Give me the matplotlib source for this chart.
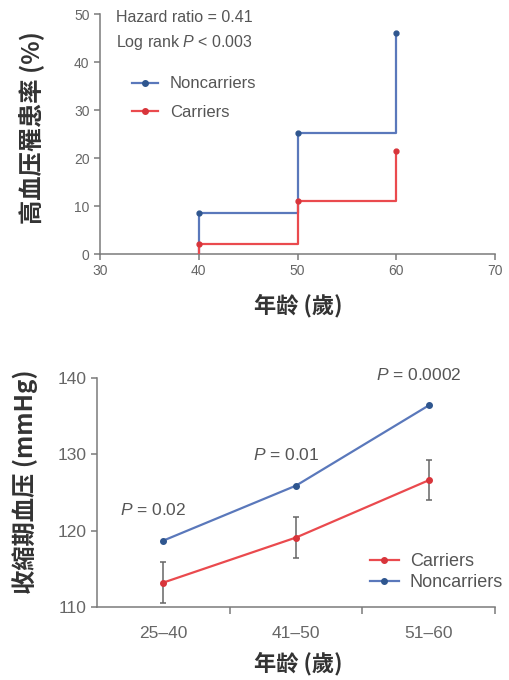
import matplotlib
matplotlib.use("Agg")
import matplotlib.pyplot as plt
import numpy as np
from matplotlib.lines import Line2D

plt.rcParams['font.family'] = ['Liberation Sans', 'Noto Sans CJK SC', 'DejaVu Sans']
plt.rcParams['mathtext.fontset'] = 'custom'
plt.rcParams['mathtext.it'] = 'Liberation Sans:italic'
plt.rcParams['mathtext.rm'] = 'Liberation Sans'

# ---- data: top (cumulative incidence) ----
ages = [40, 50, 60]
incid_noncarriers = [8.5, 25.2, 46.0]
incid_carriers = [2.0, 11.0, 21.5]
top_xticks = [30, 40, 50, 60, 70]
top_yticks = [0, 10, 20, 30, 40, 50]

# ---- data: bottom (systolic BP) ----
age_groups = ['25\u201340', '41\u201350', '51\u201360']
sbp_noncarriers = [118.7, 125.9, 136.4]
sbp_carriers = [113.2, 119.1, 126.6]
sbp_carriers_err = [2.7, 2.7, 2.6]
p_values = ['0.02', '0.01', '0.0002']
bottom_yticks = [110, 120, 130, 140]

BLUE = '#5a78bb'
BLUE_M = '#2f568f'
RED = '#ea4a4e'
RED_M = '#d8353b'
AX = '#7a7a7a'
TXT = '#555555'

fig = plt.figure(figsize=(5.1, 6.8), dpi=100)

# ================= top axes =================
ax1 = fig.add_axes([100/510, 1-254/680, 395/510, 240/680])
for vals, col, mcol, lab in [(incid_noncarriers, BLUE, BLUE_M, 'Noncarriers'),
                             (incid_carriers, RED, RED_M, 'Carriers')]:
    ax1.step(np.r_[ages[0], ages], np.r_[0, vals], where='post', color=col, lw=1.6, zorder=3)
    ax1.plot(ages, vals, 'o', color=mcol, ms=3.5, zorder=4)
ax1.set_xlim(30, 70)
ax1.set_ylim(0, 50)
ax1.set_xticks(top_xticks)
ax1.set_yticks(top_yticks)
for s in ['top', 'right']:
    ax1.spines[s].set_visible(False)
for s in ['left', 'bottom']:
    ax1.spines[s].set_color(AX)
    ax1.spines[s].set_linewidth(1.1)
ax1.tick_params(colors=AX, labelcolor='#666666', labelsize=10, length=4, width=1.1, direction='out')
ax1.text(0.04, 0.9875, 'Hazard ratio = 0.41', transform=ax1.transAxes, fontsize=11.5,
         color=TXT, va='center', ha='left')
ax1.text(0.04, 0.883, 'Log rank $P$ < 0.003', transform=ax1.transAxes, fontsize=11.5,
         color=TXT, va='center', ha='left')
h1 = [Line2D([], [], color=BLUE, marker='o', mfc=BLUE_M, mec=BLUE_M, ms=4, lw=1.6),
      Line2D([], [], color=RED, marker='o', mfc=RED_M, mec=RED_M, ms=4, lw=1.6)]
ax1.legend(h1, ['Noncarriers', 'Carriers'], loc='upper left', bbox_to_anchor=(0.08, 0.74),
           frameon=False, fontsize=12, handlelength=1.6, handletextpad=0.7,
           labelspacing=0.8, labelcolor=TXT, borderpad=0, borderaxespad=0)
fig.text(298/510, 1-306/680, '年龄 (歲)', family=['Noto Sans CJK SC'], fontsize=16,
         fontweight='bold', color='#333333', ha='center', va='center')
fig.text(31/510, 1-128/680, '高血压罹患率 (%)', family=['Noto Sans CJK SC'], fontsize=17.5,
         fontweight='bold', color='#333333', ha='center', va='center', rotation=90)

# ================= bottom axes =================
ax2 = fig.add_axes([97/510, 1-607/680, 398/510, 229/680])
x = np.arange(len(age_groups))
ax2.plot(x, sbp_noncarriers, '-o', color=BLUE, mfc=BLUE_M, mec=BLUE_M, ms=4, lw=1.6, zorder=3)
ax2.errorbar(x, sbp_carriers, yerr=sbp_carriers_err, fmt='-o', color=RED, mfc=RED_M,
             mec=RED_M, ms=4, lw=1.6, ecolor='#666666', elinewidth=1.1, capsize=2.5,
             capthick=1.1, zorder=3)
ax2.set_xlim(-0.5, len(age_groups) - 0.5)
ax2.set_ylim(110, 140)
ax2.set_yticks(bottom_yticks)
ax2.set_xticks(x)
ax2.set_xticklabels(age_groups)
ax2.set_xticks(x + 0.5, minor=True)
ax2.tick_params(axis='x', which='major', length=0, pad=14)
ax2.tick_params(axis='x', which='minor', length=5, width=1.1, colors=AX, direction='out')
for s in ['top', 'right']:
    ax2.spines[s].set_visible(False)
for s in ['left', 'bottom']:
    ax2.spines[s].set_color(AX)
    ax2.spines[s].set_linewidth(1.1)
ax2.tick_params(axis='y', colors=AX, length=4, width=1.1, direction='out')
ax2.tick_params(labelcolor='#666666', labelsize=12.5)
for i, p in enumerate(p_values):
    ax2.annotate('$P$ = ' + p, xy=(x[i], sbp_noncarriers[i]), xytext=(-7, 22),
                 textcoords='offset points', ha='center', va='center', fontsize=12.5,
                 color=TXT)
h2 = [Line2D([], [], color=RED, marker='o', mfc=RED_M, mec=RED_M, ms=4, lw=1.6),
      Line2D([], [], color=BLUE, marker='o', mfc=BLUE_M, mec=BLUE_M, ms=4, lw=1.6)]
ax2.legend(h2, ['Carriers', 'Noncarriers'], loc='lower right', bbox_to_anchor=(1.02, 0.07),
           frameon=False, fontsize=13, handlelength=1.6, handletextpad=0.6,
           labelspacing=0.2, labelcolor=TXT, borderpad=0, borderaxespad=0)
fig.text(298/510, 1-664/680, '年龄 (歲)', family=['Noto Sans CJK SC'], fontsize=16,
         fontweight='bold', color='#333333', ha='center', va='center')
fig.text(25/510, 1-482/680, '收縮期血压 (mmHg)', family=['Noto Sans CJK SC'], fontsize=17.5,
         fontweight='bold', color='#333333', ha='center', va='center', rotation=90)

fig.savefig('out.png', dpi=100)
